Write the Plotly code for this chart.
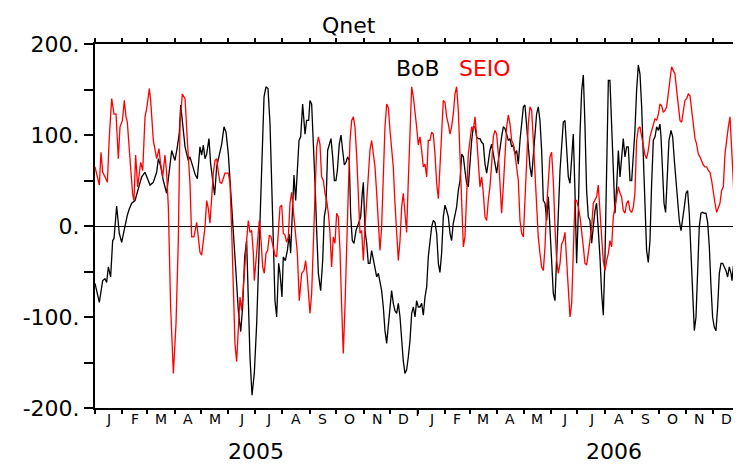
import pandas as pd
import plotly.graph_objects as go

# ---------------- data (day offsets from 2005-01-01, values in W/m^2) ----------------
bob_days = [0.0, 4.9, 8.7, 11.3, 13.2, 15.1, 17.7, 20.0, 21.5, 24.5, 27.5, 30.2, 32.1, 34.0, 36.6, 38.9,
            41.5, 45.3, 47.2, 50.2, 52.8, 56.6, 62.3, 66.0, 69.8, 71.7, 74.3, 77.3, 81.1, 86.8, 90.5, 93.2,
            95.4, 97.0, 101.9, 105.6, 107.5, 113.2, 115.8,
            118.8, 120.7, 122.6, 124.5, 126.4, 129.0, 130.9, 133.2, 135.4, 137.7, 140.7, 143.4, 146.0, 148.3,
            150.9, 153.5, 156.6, 159.6, 162.2, 164.9, 167.1, 169.4, 171.6, 173.5, 175.4, 177.7, 180.3, 183.0,
            186.0, 188.6, 191.3, 193.5, 195.8, 198.1, 200.0, 201.8, 203.7, 205.6, 207.9, 209.4, 211.6, 213.1,
            215.4, 217.7, 219.9, 221.4, 223.7, 225.2, 227.1, 229.0, 230.9, 232.8, 235.0, 237.7, 239.5, 241.8,
            243.3, 245.2, 247.1, 249.0, 250.9, 252.8, 255.4, 257.7, 259.5, 261.4, 263.3, 265.2, 267.1, 269.0,
            270.9, 272.7, 274.3, 276.5, 278.4, 280.3, 282.2, 284.1, 285.9, 287.8, 289.3, 291.2, 293.1, 295.4,
            297.3, 299.2, 300.7, 302.5, 303.7, 305.6, 307.5, 309.3, 311.2, 313.1, 315.0, 316.9, 318.8, 320.7,
            322.5, 324.4, 326.3, 328.2, 330.1, 332.0, 333.9, 335.7, 337.6, 339.5, 341.4, 343.3, 345.2, 347.1,
            348.9, 350.8, 352.7, 354.6, 356.5, 358.4, 360.3, 362.2, 364.0, 365.9,
            367.8, 369.7, 371.6, 373.5, 375.4, 377.2, 379.1, 381.0, 382.9, 384.8, 386.7, 388.6, 390.4, 392.3,
            394.2, 396.1, 398.0, 399.9, 401.8, 403.6, 405.5, 407.4, 409.3, 411.2, 413.1, 415.0, 416.9, 418.7,
            420.6, 422.5, 424.4, 426.3, 428.2, 430.1, 431.9, 433.8, 435.7, 437.6, 439.5, 441.4, 443.3, 445.1,
            447.0, 448.9, 450.8, 452.7, 454.6, 456.5, 458.4, 460.2, 462.1, 464.0, 465.9, 467.8, 469.7, 471.6,
            473.4, 475.3, 477.2, 479.1, 481.0, 482.9, 484.8, 486.6, 488.5, 490.4,
            492.3, 494.2, 496.1, 498.0, 499.8, 501.7, 503.6, 505.5, 507.4, 509.3, 511.2, 513.1, 514.9, 516.8,
            518.7, 520.6, 522.5, 524.4, 526.3, 528.1, 530.0, 531.9, 533.8, 535.7, 537.6, 539.5, 541.3, 543.2,
            545.1, 547.0, 548.9, 550.8, 552.7, 554.5, 556.4, 558.3, 560.2, 562.1, 564.0, 565.9, 567.7, 569.6,
            571.5, 573.4, 575.3, 577.2, 579.1, 581.0, 582.8, 584.7, 586.6, 588.5, 590.4, 592.3, 594.2, 596.0,
            597.9, 599.8, 601.7, 603.6, 605.5, 607.4, 609.3,
            611.1, 613.0, 614.9, 616.8, 618.7, 620.6, 622.5, 624.3, 626.2, 628.1, 630.0, 631.9, 633.8, 635.7,
            637.6, 639.4, 640.6, 642.1, 644.0, 645.8, 647.7, 649.6, 651.9, 653.8, 655.7, 657.5, 659.4, 661.3,
            663.2, 665.1, 667.0, 668.9, 670.7, 672.6, 674.5, 676.4, 678.3, 680.2, 682.1, 683.9, 685.8, 687.7,
            689.6, 691.5, 693.4, 695.3, 697.2, 699.0, 700.9, 702.8, 704.7, 706.6, 708.5, 710.4, 712.2, 714.1,
            716.0, 717.9, 719.8, 720.9, 722.4, 724.3, 726.2, 728.1, 730.0]
bob_values = [-63, -84, -60, -58, -62, -45, -56, -16, -14, 22, -8, -18, -9, 0, 12, 19,
              25, 28, 34, 43, 54, 59, 45, 48, 59, 74, 66, 50, 36, 83, 72, 87,
              102, 133, 87, 72, 76, 57, 52,
              87, 78, 89, 74, 79, 96, 68, 50, 34, 65, 79, 90, 109, 103,
              79, 36, -5, -52, -93, -116, -89, -34, -16, -74, -144, -186, -162, -107,
              -16, 76, 142, 153, 151, 112, 39, -27, -82, -100, -41, -52, -78, -34,
              -38, -27, -9, -30, 17, 56, 28, 65, 94, 98, 134, 101, 116, 116,
              138, 134, 98, 47, -5, -52, -71, -38, 10, 21, 83, 90, 96, 76,
              50, 50, 61, 90, 100, 83, 67, 70, 76, 72, 14, -16, -19, -5,
              1, 6, 10, 36, 48, -5, -19, -41, -41, -27, -38, -49, -56, -52,
              -63, -71, -89, -115, -129, -107, -82, -71, -85, -93, -96, -85, -100, -126,
              -148, -162, -158, -144, -126, -96, -89, -100, -82, -89,
              -89, -85, -98, -78, -67, -34, -16, -1, 6, 4, -8, -41, -51, -30,
              10, 23, 17, 10, -8, -16, 3, 14, 21, 39, 50, 79, 76, 61,
              47, 43, 72, 94, 109, 109, 98, 96, 96, 92, 90, 68, 58, 72,
              83, 90, 79, 68, 58, 72, 87, 98, 109, 107, 101, 94, 96, 87,
              89, 79, 83, 68, 94, 116, 131, 133, 112, 87,
              65, 54, 79, 101, 123, 131, 116, 83, 28, 25, 6, 32, -1, -34,
              -74, -82, -41, 14, 61, 87, 114, 116, 83, 54, 47, 79, 101, 39,
              -41, 14, 101, 149, 166, 112, 39, 10, 6, -19, -1, 17, 25, -1,
              -34, -74, -98, -34, 76, 160, 160, 112, 47, 14, 43, 83, 54, 79,
              96, 76, 87, 87, 50, 50, 76,
              105, 149, 177, 167, 131, 76, 21, -27, -40, -16, 47, 94, 98, 109,
              105, 112, 98, 65, 25, 15, 58, 94, 105, 98, 72, 50, 28, 6,
              -5, 6, 21, 36, 39, 14, -34, -82, -115, -100, -52, -1, 14, 15,
              14, 14, 4, -23, -67, -100, -111, -115, -89, -52, -41, -41, -45, -49,
              -56, -45, -52, -60, -45, -38, -23, -12, -5]

seio_days = [0.0, 2.6, 4.9, 6.8, 8.7, 11.3, 14.0, 16.2, 18.9, 21.5, 23.8, 26.4, 28.3, 31.0, 33.2, 35.1,
             36.6, 38.9, 40.7, 42.6, 44.1, 46.0, 48.3, 50.2, 51.7, 54.0, 56.6, 58.5, 61.5, 63.0, 66.0, 69.8,
             72.4, 74.3, 76.6, 79.2, 81.1, 83.0, 85.6, 88.7, 91.7, 94.3, 96.2, 98.8, 101.9, 104.5, 107.5,
             109.4, 112.0, 115.1, 117.0,
             118.8, 120.7, 122.6, 124.5, 126.4, 128.3, 130.1, 132.0, 133.9, 135.8, 137.7, 139.6, 141.5, 143.4,
             145.2, 147.1, 150.9, 152.8, 154.7, 156.6, 158.4, 160.3, 162.2, 164.1, 166.0, 167.9, 169.8, 171.6,
             173.5, 175.4, 177.3, 179.2, 180.3, 182.2, 184.1, 186.0, 187.9, 189.8, 191.6, 193.5, 195.4, 197.3,
             199.2, 201.8, 203.7, 205.6, 207.5, 209.4, 211.3, 213.1, 215.0, 216.9, 218.8, 220.7, 222.6, 224.5,
             226.3, 229.0, 231.2, 233.9, 236.5, 238.4, 240.3, 242.6,
             243.3, 245.2, 247.1, 249.0, 250.9, 252.8, 254.6, 256.5, 258.4, 260.3, 262.2, 264.1, 266.0, 267.8,
             269.7, 271.6, 273.5, 275.4, 277.3, 279.2, 281.0, 282.9, 284.8, 286.7, 288.6, 290.5, 292.4, 294.2,
             296.1, 298.0, 299.9, 301.8, 303.7, 305.6, 307.5, 309.3, 311.2, 313.1, 315.0, 316.9, 318.8, 320.7,
             322.5, 324.4, 326.3, 328.2, 330.1, 332.0, 333.9, 335.7, 337.6, 339.5, 341.4, 343.3, 345.2, 347.1,
             348.9, 350.8, 352.7, 354.6, 356.5, 358.4, 360.3, 362.2, 364.0, 365.9,
             367.8, 369.7, 371.6, 373.5, 375.4, 377.2, 379.1, 381.0, 382.9, 384.8, 386.7, 388.6, 390.4, 392.3,
             394.2, 396.1, 398.0, 399.9, 401.8, 403.6, 405.5, 407.4, 409.3, 411.2, 413.1, 415.0, 416.9, 418.7,
             420.6, 422.5, 424.4, 426.3, 428.2, 430.1, 431.9, 433.8, 435.7, 437.6, 439.5, 441.4, 443.3, 445.1,
             447.0, 448.9, 450.8, 452.7, 454.6, 456.5, 458.4, 460.2, 462.1, 464.0, 465.9, 467.8, 469.7, 471.6,
             473.4, 475.3, 477.2, 479.1, 481.0, 482.9, 484.8, 486.6, 488.5, 490.4,
             492.3, 494.2, 496.1, 498.0, 499.8, 501.7, 503.6, 505.5, 507.4, 509.3, 511.2, 513.1, 514.9, 516.8,
             518.7, 520.6, 522.5, 524.4, 526.3, 528.1, 530.0, 531.9, 533.8, 535.7, 537.6, 539.5, 541.3, 543.2,
             545.1, 547.0, 548.9, 550.8, 552.7, 554.5, 556.4, 558.3, 560.2, 562.1, 564.0, 565.9, 567.7, 569.6,
             571.5, 573.4, 575.3, 577.2, 579.1, 581.0, 582.8, 584.7, 586.6, 588.5, 590.4, 592.3, 594.2, 596.0,
             597.9, 599.8, 601.7, 603.6, 605.5, 607.4, 609.3,
             611.1, 613.0, 614.9, 616.8, 618.7, 620.6, 622.5, 624.3, 626.2, 628.1, 630.0, 631.9, 633.8, 635.7,
             637.6, 639.4, 641.3, 643.2, 645.1, 647.0, 648.9, 650.8, 652.6, 654.5, 656.4, 658.3, 660.2, 662.1,
             664.0, 665.9, 667.7, 669.6, 671.5, 673.4, 675.3, 677.2, 679.1, 680.9, 682.8, 684.7, 686.6, 688.5,
             690.4, 692.3, 694.1, 696.0, 697.9, 699.8, 701.7, 703.6, 705.5, 707.3, 709.2, 711.1, 713.0, 714.9,
             716.8, 718.7, 720.6, 722.4, 724.3, 726.2, 728.1, 730.0]
seio_values = [65, 54, 45, 81, 59, 54, 48, 98, 140, 123, 123, 74, 109, 116, 138, 120,
               114, 83, 61, 35, 28, 78, 43, 57, 70, 61, 120, 129, 151, 138, 94, 74,
               85, 68, 54, 78, 58, 21, -89, -162, -107, -16, 112, 145, 140, 94, 47,
               -12, -12, 4, -12,
               -29, -32, -16, -1, 28, 19, 3, 36, 58, 72, 74, 59, 48, 47,
               52, 58, 58, 47, -5, -82, -129, -149, -118, -78, -93, -71, -41, -16,
               6, -7, -5, -30, -60, -38, -19, 6, -16, -45, -52, -30, -27, -10,
               -12, -23, -32, -34, -8, 21, 23, -8, -10, -18, -12, 25, 37, 17,
               -1, -30, -82, -52, -49, -38, -56, -96,
               -96, -74, -16, 50, 87, 98, 90, 54, 50, 36, 28, 14, -8, -45,
               -12, -19, 14, 10, -27, -89, -140, -89, -16, 39, 94, 116, 120, 109,
               79, 28, -8, -5, -38, -1, 28, 65, 83, 94, 79, 65, 36, -1,
               -27, -1, 58, 109, 134, 130, 105, 83, 65, 25, -8, -38, -16, 21,
               36, 14, -7, 50, 112, 153, 142, 127, 109, 89,
               98, 83, 65, 68, 54, 94, 94, 103, 101, 79, 47, 30, 61, 101,
               138, 136, 120, 112, 101, 109, 123, 145, 153, 127, 76, 21, -23, -12,
               39, 79, 94, 109, 105, 120, 98, 72, 43, 54, 36, 10, 6, 28,
               43, 68, 98, 105, 101, 79, 39, 14, 43, 76, 109, 122, 112, 94,
               90, 79, 61, 50, 6, -8, -12, 28, 76, 112,
               131, 127, 94, 58, 21, -12, -30, -45, -49, -23, 21, 50, 76, 81,
               50, -1, -38, -52, -41, -20, -16, -7, -38, -82, -100, -85, -30, 28,
               28, 21, 10, -5, -23, -41, -43, -30, -16, -1, 25, 28, 32, 45,
               21, -12, -38, -49, -38, -30, -16, -23, 10, 21, 32, 43, 36, 32,
               17, 14, 25, 28, 17, 15, 21,
               36, 94, 107, 109, 98, 87, 78, 74, 83, 98, 105, 112, 118, 116,
               123, 134, 132, 125, 127, 131, 145, 164, 175, 171, 167, 149, 131, 116,
               114, 127, 138, 140, 145, 143, 127, 112, 96, 90, 79, 76, 72, 67,
               65, 65, 61, 59, 50, 36, 25, 15, 21, 25, 39, 43, 79, 98,
               109, 120, 83, 47, -1, -23, -12, 17]

month_letters = ["J", "F", "M", "A", "M", "J", "J", "A", "S", "O", "N", "D"] * 2
year_labels = ["2005", "2006"]
year_label_dates = ["2005-07-02", "2006-08-11"]
y_tick_values = [-200, -150, -100, -50, 0, 50, 100, 150, 200]
y_tick_text = ["-200.", "", "-100.", "", "0.", "", "100.", "", "200."]
title_text = "Qnet"
series_names = ["BoB", "SEIO"]

# ---------------- figure ----------------
base = pd.Timestamp("2005-01-01")
bob_dates = base + pd.to_timedelta(bob_days, unit="D")
seio_dates = base + pd.to_timedelta(seio_days, unit="D")
month_starts = pd.date_range("2005-01-01", "2007-01-01", freq="MS")
month_mids = [month_starts[i] + (month_starts[i + 1] - month_starts[i]) / 2 for i in range(24)]

FONT = "DejaVu Sans"
fig = go.Figure()
fig.add_trace(go.Scatter(x=bob_dates, y=bob_values, mode="lines", name=series_names[0],
                         line=dict(color="black", width=1.3), showlegend=False))
fig.add_trace(go.Scatter(x=seio_dates, y=seio_values, mode="lines", name=series_names[1],
                         line=dict(color="#ff0000", width=1.3), showlegend=False))

annotations = []
for d, t in zip(month_mids, month_letters):
    annotations.append(dict(x=d, y=0, xref="x", yref="paper", yshift=-11, yanchor="middle",
                            text=t, showarrow=False, font=dict(family=FONT, size=14, color="black")))
for d, t in zip(year_label_dates, year_labels):
    annotations.append(dict(x=d, y=0, xref="x", yref="paper", yshift=-43, yanchor="middle",
                            text=t, showarrow=False, font=dict(family=FONT, size=22, color="black")))
annotations.append(dict(x=0.394, y=1, xref="paper", yref="paper", yshift=19, yanchor="middle",
                        text=title_text, showarrow=False, font=dict(family=FONT, size=22, color="black")))
annotations.append(dict(x=0.5008, y=1, xref="paper", yref="paper", yshift=-24, yanchor="middle",
                        text=series_names[0], showarrow=False, font=dict(family=FONT, size=22, color="black")))
annotations.append(dict(x=0.6054, y=1, xref="paper", yref="paper", yshift=-24, yanchor="middle",
                        text=series_names[1], showarrow=False, font=dict(family=FONT, size=22, color="#ff0000")))

# the page body adds an 8px offset, so the figure is sized to fit the 741x465 window
fig.update_layout(
    width=733, height=457,
    margin=dict(l=87, r=1, t=36, b=57),
    plot_bgcolor="white", paper_bgcolor="white",
    annotations=annotations,
    shapes=[dict(type="line", xref="x", yref="paper", x0="2006-01-01", x1="2006-01-01",
                 y0=0, y1=-0.022, line=dict(color="black", width=1.5))],
    xaxis=dict(type="date", range=[base, pd.Timestamp("2007-01-01")],
               tickvals=list(month_starts), showticklabels=False,
               ticks="outside", ticklen=4, tickwidth=1.5, tickcolor="black",
               showline=True, linecolor="black", linewidth=2, mirror="ticks",
               showgrid=False, zeroline=False),
    yaxis=dict(range=[-200, 200], tickvals=y_tick_values, ticktext=y_tick_text,
               ticks="outside", ticklen=9, tickwidth=1.5, tickcolor="black",
               tickfont=dict(family=FONT, size=22, color="black"), automargin=False,
               showline=True, linecolor="black", linewidth=2, mirror=True,
               showgrid=False, zeroline=True, zerolinecolor="black", zerolinewidth=1),
)

fig.write_html("out.html")
